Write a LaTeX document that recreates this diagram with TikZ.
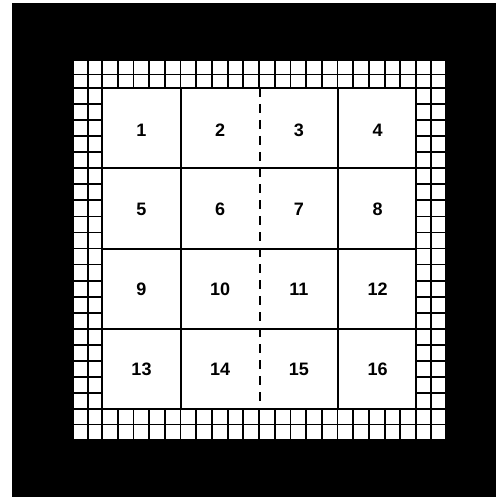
\documentclass[tikz,border=0pt]{standalone}
\usepackage{fontspec}
\setmainfont{Liberation Sans}
\begin{document}
\begin{tikzpicture}[x=1pt,y=-1pt,
  gridline/.style={line width=1.8pt,black},
  cellline/.style={line width=1.2pt,black},
  num/.style={font=\bfseries\fontsize{18}{18}\selectfont, inner sep=0pt}]
\useasboundingbox (0,0) rectangle (496,497);
\fill[white] (0,0) rectangle (496,497);
\fill[black] (12,3) rectangle (496,497);
\fill[white] (73,60) rectangle (446,440);
% border grid lines
\foreach \x in {73,88,431,446} \draw[gridline] (\x,60) -- (\x,440);
\foreach \k in {0,...,20} \draw[gridline] ({102+\k*15.7},60) -- ({102+\k*15.7},440);
\foreach \y in {60,74.5,424.5,440} \draw[gridline] (73,\y) -- (446,\y);
\foreach \k in {0,...,20} \draw[gridline] (73,{88+\k*16.05}) -- (446,{88+\k*16.05});
% inner square
\fill[white] (102,88) rectangle (416,409);
\draw[line width=2pt] (102,88) rectangle (416,409);
\draw[cellline] (181,88) -- (181,409);
\draw[cellline] (338,88) -- (338,409);
\draw[cellline, dash pattern=on 9pt off 7pt] (260,88) -- (260,409);
\foreach \y in {168,249,329} \draw[cellline] (102,\y) -- (416,\y);
% numbers
\foreach \n [count=\i from 0] in {1,...,16} {
  \pgfmathtruncatemacro{\c}{mod(\i,4)}
  \pgfmathtruncatemacro{\r}{div(\i,4)}
  \node[num] (c\n) at ({141.5+\c*78.7},{130+\r*79.7}) {\n};
}
\end{tikzpicture}
\end{document}
